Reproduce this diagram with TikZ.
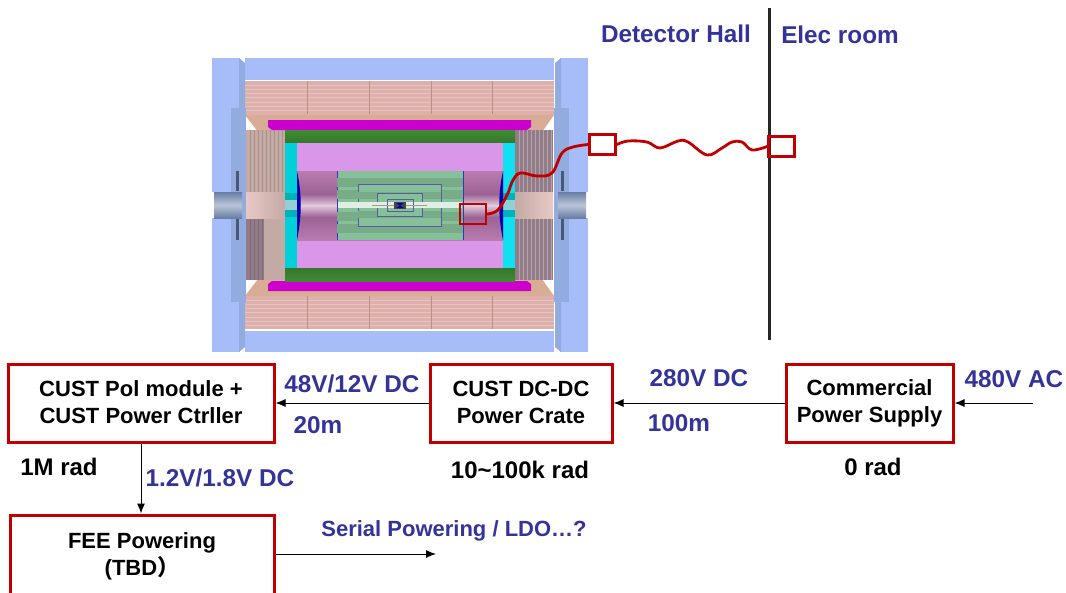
\documentclass[tikz,border=0pt]{standalone}
\usepackage{fontspec}
\setmainfont{Liberation Sans}
\newfontfamily\cjk{Noto Sans CJK SC}
\usetikzlibrary{arrows.meta}
\definecolor{boxred}{RGB}{192,0,0}
\definecolor{labelblue}{RGB}{51,51,153}
\definecolor{yokeblue}{RGB}{166,189,250}
\definecolor{yokedark}{RGB}{146,172,224}
\definecolor{coilpink}{RGB}{222,176,172}
\definecolor{coilbrown}{RGB}{217,172,150}
\definecolor{tracker}{RGB}{133,192,152}
\definecolor{trackerdark}{RGB}{120,172,136}
\definecolor{barmagenta}{RGB}{204,0,204}
\definecolor{bargreen}{RGB}{63,140,52}
\definecolor{gascyan}{RGB}{16,224,240}
\definecolor{gasteal}{RGB}{0,208,216}
\definecolor{driftpink}{RGB}{218,150,232}
\definecolor{wallpurple}{RGB}{186,124,176}
\definecolor{walldark}{RGB}{156,98,148}
\definecolor{walllight}{RGB}{226,202,220}
\definecolor{capdark}{RGB}{146,124,136}
\definecolor{caplight}{RGB}{196,170,164}
\definecolor{pipegray}{RGB}{104,126,165}

\begin{document}
\begin{tikzpicture}[x=1pt, y=-1pt,
		powerbox/.style={draw=boxred, line width=3pt, minimum height=78pt, inner sep=0pt, align=center, font=\bfseries\fontsize{22}{27}\selectfont},
		redbox/.style={draw=boxred, line width=2.8pt, minimum width=26pt, minimum height=20pt, inner sep=0pt},
		bluetext/.style={text=labelblue, font=\bfseries\fontsize{24.3}{28}\selectfont, inner sep=0pt},
		blacktext/.style={font=\bfseries\fontsize{24}{28}\selectfont, inner sep=0pt},
		wire/.style={draw=boxred, line width=2.8pt},
		link/.style={-{Latex[length=10pt,width=8pt]}, line width=1pt}]
	\clip (0,0) rectangle (1066,592);

	% barrel yoke and coil
	\fill[yokeblue] (245,58) rectangle (554,80);
	\fill[yokeblue] (245,331) rectangle (554,352);
	\fill[coilbrown] (245,115) -- (554,115) -- (542,132) -- (258,132) -- cycle;
	\fill[coilbrown] (245,296) -- (554,296) -- (542,279) -- (258,279) -- cycle;
	\fill[coilpink] (245,81) rectangle (554,115);
	\fill[coilpink] (245,296) rectangle (554,329);
	\foreach \ytop in {81,296} {
		\foreach \i in {1,...,7} \draw[white!25!coilpink, line width=0.8pt] (245,\ytop+4.2*\i) -- (554,\ytop+4.2*\i);
		\foreach \xx in {307,369,431,492} \draw[coilbrown!85!black, line width=0.5pt] (\xx,\ytop) -- (\xx,\ytop+33);
	}

	% end yokes, both sides
	\foreach \sx/\tx in {1/0,-1/800} {
		\begin{scope}[shift={(\tx,0)}, xscale=\sx]
			\fill[yokeblue] (212,58) rectangle (240,352);
			\fill[yokedark] (239,58) -- (245,63) -- (245,347) -- (239,352) -- cycle;
			\fill[yokedark] (231,108) rectangle (246,302);
			\fill[white] (212,192) rectangle (215,218);
			\fill[pipegray!70!black] (236,171) rectangle (239,191);
			\fill[pipegray!70!black] (236,219) rectangle (239,240);
			\shade[top color=pipegray, bottom color=pipegray, middle color=pipegray!45!white] (214,192) rectangle (242,218);
		\end{scope}
	}

	% endcaps
	\fill[caplight] (246,130) rectangle (285,280);
	\fill[capdark] (246,219) rectangle (264,280);
	\fill[capdark] (515,130) rectangle (553,280);
	\foreach \xx in {250,254,...,282} \draw[caplight!85!black, line width=0.6pt] (\xx,130) -- (\xx,192);
	\foreach \xx in {250,254,258,262} \draw[capdark!85!black, line width=0.6pt] (\xx,219) -- (\xx,280);
	\foreach \xx in {519,523,...,551} {
		\draw[capdark!70!white, line width=0.6pt] (\xx,130) -- (\xx,192);
		\draw[capdark!70!white, line width=0.6pt] (\xx,219) -- (\xx,280);
	}
	\shade[left color=coilpink!70!white, right color=caplight] (246,192) rectangle (285,218);
	\shade[left color=caplight, right color=coilpink!70!white] (515,192) rectangle (553,218);

	% calorimeter bars
	\fill[barmagenta] (268,120) -- (531,120) -- (531,127) -- (527,130) -- (272,130) -- (268,127) -- cycle;
	\fill[barmagenta] (268,291) -- (531,291) -- (531,284) -- (527,281) -- (272,281) -- (268,284) -- cycle;
	\shade[top color=bargreen, bottom color=bargreen!85!black] (285,130) rectangle (515,143);
	\shade[top color=bargreen!85!black, bottom color=bargreen] (285,268) rectangle (515,281);

	% main tracker volume
	\fill[gasteal] (285,143) rectangle (297,268);
	\fill[gascyan] (503,143) rectangle (515,268);
	\foreach \xx in {285,503} {
		\fill[gasteal!85!black] (\xx,193) rectangle (\xx+12,217);
		\fill[gascyan!50!gray!60!white] (\xx,200) rectangle (\xx+12,210);
	}
	\fill[driftpink] (297,143) rectangle (503,171);
	\fill[driftpink] (297,240) rectangle (503,268);
	\shade[top color=wallpurple, bottom color=walldark] (297,171) rectangle (503,194);
	\shade[top color=walldark, bottom color=walllight] (297,194) rectangle (503,205.5);
	\shade[top color=walllight, bottom color=walldark] (297,205.5) rectangle (503,217);
	\shade[top color=walldark, bottom color=wallpurple] (297,217) rectangle (503,240);
	\fill[blue!70!black] (297,171) .. controls (302,195) and (302,215) .. (297,240) -- cycle;
	\fill[blue!70!black] (503,171) .. controls (498,195) and (498,215) .. (503,240) -- cycle;

	% inner tracker layers
	\fill[tracker] (337,171) rectangle (463,240);
	\draw[blue!60!gray, line width=0.8pt] (337,171) -- (337,240) (463,171) -- (463,240);
	\foreach \ystripe in {178,190,212,224} \fill[trackerdark] (337,\ystripe) rectangle (463,\ystripe+9);
	\draw[blue!30!gray, line width=0.8pt, fill=tracker] (358,184) rectangle (441,226);
	\fill[trackerdark] (358,192) rectangle (441,199);
	\fill[trackerdark] (358,211) rectangle (441,218);
	\draw[blue!30!gray, line width=0.8pt, fill=tracker] (377,193) rectangle (422,216);
	\fill[tracker!25!white] (338,202) rectangle (462,208);
	\draw[blue!30!gray, line width=0.8pt] (387,199) rectangle (413,211);
	\draw[coilbrown!85!black, line width=1pt] (372,205) -- (427,205);
	\fill[black!45!gray] (394,202) rectangle (406,209);
	\fill[blue!70!black] (396,203) -- (404,203) -- (400,205.5) -- (404,208) -- (396,208) -- (400,205.5) -- cycle;

	% hall wall
	\coordinate (wall top) at (769,8);
	\coordinate (wall bottom) at (769,340);
	\draw[black!85, line width=3pt] (wall top) -- (wall bottom);

	% cable boxes
	\node[redbox] (cable detector) at (473,214) {};
	\node[redbox] (cable hall) at (602.5,144.5) {};
	\node[redbox] (cable wall) at (781.5,146.5) {};
	\draw[wire, line cap=round] plot[smooth, tension=0.6] coordinates {(cable detector.east) (498,210) (508,193) (512,182) (520,173) (537,176) (552,173) (562,153) (573,147) (cable hall.west)};
	\draw[wire, line cap=round] plot[smooth, tension=0.6] coordinates {(cable hall.east) (628,141) (647,142) (660,148) (678,141) (688,142) (707,155) (722,148) (732,142) (742,142) (752,150) (cable wall.west)};

	\node[bluetext] (hall label) at (676,34) {Detector Hall};
	\node[bluetext] (room label) at (840,35) {Elec room};

	% power chain
	\node[powerbox, minimum width=266pt] (pol box) at (141,403) {\raisebox{1.5pt}{CUST Pol module +}\\\raisebox{1.5pt}{CUST Power Ctrller}};
	\node[powerbox, minimum width=182pt] (crate box) at (521,403) {\raisebox{1pt}{CUST DC-DC}\\\raisebox{1pt}{Power Crate}};
	\node[powerbox, minimum width=167pt] (supply box) at (869.5,403) {Commercial\\Power Supply};
	\node[powerbox, minimum width=264pt, minimum height=96pt] (fee box) at (142,563) {};
	\node[font=\bfseries\fontsize{22}{27}\selectfont, align=center, inner sep=0pt] (fee label) at (142,556) {FEE Powering\\(TBD{\cjk ）}};

	\coordinate (ac in) at (1033,403);
	\coordinate (serial end) at (436,554);
	\draw[link] (ac in) -- (supply box.east);
	\draw[link] (supply box.west) -- (crate box.east);
	\draw[link] (crate box.west) -- (pol box.east);
	\draw[link] (pol box.south) -- (fee box.north -| pol box.south);
	\draw[link] (fee box.east |- serial end) -- (serial end);

	\node[bluetext] (ac label) at (1014,379) {480V AC};
	\node[bluetext] (hv label) at (699,378) {280V DC};
	\node[bluetext] (hv length) at (679,423) {100m};
	\node[bluetext] (lv label) at (352,384) {48V/12V DC};
	\node[bluetext] (lv length) at (318,425) {20m};
	\node[bluetext] (pol label) at (220,478) {1.2V/1.8V DC};
	\node[bluetext, font=\bfseries\fontsize{22}{26}\selectfont] (serial label) at (454,531) {Serial Powering / LDO…?};
	\node[blacktext] (pol rad) at (59,467) {1M rad};
	\node[blacktext] (crate rad) at (520,470) {10\textasciitilde100k rad};
	\node[blacktext] (supply rad) at (873,467) {0 rad};
\end{tikzpicture}
\end{document}
